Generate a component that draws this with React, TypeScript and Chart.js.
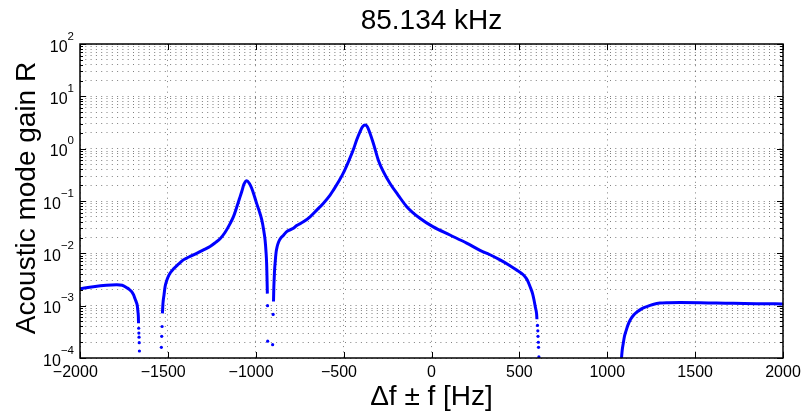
import { useEffect, useRef } from 'react';
import { Chart, registerables } from 'chart.js';

Chart.register(...registerables);

const TITLE = '85.134 kHz';
const X_LABEL = 'Δf ± f [Hz]';
const Y_LABEL = 'Acoustic mode gain R';

const X_TICKS = [-2000, -1500, -1000, -500, 0, 500, 1000, 1500, 2000];
const Y_DECADES = [-4, -3, -2, -1, 0, 1, 2];

// Solid (densely sampled) parts of the curve; null separates pieces
const curveX: (number | null)[] = [
  -2000, -1924, -1850, -1791, -1760, -1734, -1720, -1706, -1695, -1687, -1679, -1674, -1670, -1668, -1667,
  null,
  -1531, -1528, -1522, -1516, -1507, -1498, -1485, -1469, -1440, -1412, -1380, -1336, -1300, -1260, -1230,
  -1203, -1175, -1146, -1125, -1108, -1093, -1080, -1067, -1051, -1037, -1023, -1008, -995, -980, -966,
  -955, -947, -941, -938, -936, -934,
  null,
  -899, -898, -897, -895, -893, -889, -885, -878, -870, -858, -843, -824, -786, -767, -729, -691, -653,
  -616, -577, -559, -530, -502, -473, -445, -426, -407, -392, -378, -365, -350, -331, -303, -274, -236,
  -190, -141, -66, 10, 105, 200, 276, 330, 390, 440, 480, 522, 545, 561, 575, 583, 592, 598, 600,
  null,
  1081, 1085, 1091, 1098, 1107, 1117, 1129, 1147, 1168, 1195, 1225, 1260, 1300, 1350, 1414, 1528, 1620,
  1717, 1850, 2000,
];
const curveY: (number | null)[] = [
  2.1e-3, 2.3e-3, 2.45e-3, 2.5e-3, 2.45e-3, 2.2e-3, 2.05e-3, 1.85e-3, 1.6e-3, 1.35e-3, 1.15e-3, 1.0e-3, 7.5e-4, 6.2e-4, 4.6e-4,
  null,
  7.1e-4, 1.1e-3, 1.6e-3, 2.3e-3, 3.0e-3, 3.6e-3, 4.3e-3, 5.0e-3, 6.2e-3, 7.5e-3, 8.5e-3, 1.0e-2, 1.15e-2, 1.35e-2, 1.6e-2,
  1.9e-2, 2.5e-2, 3.7e-2, 5.2e-2, 7.7e-2, 0.11, 0.15, 0.21, 0.245, 0.218, 0.175, 0.125, 0.09, 0.064, 0.044,
  0.028, 0.018, 0.01, 6.3e-3, 3.5e-3, 1.7e-3,
  null,
  1.2e-3, 1.7e-3, 2.3e-3, 3.3e-3, 4.7e-3, 7e-3, 1.0e-2, 1.35e-2, 1.65e-2, 1.95e-2, 2.2e-2, 2.6e-2, 3.0e-2, 3.4e-2, 4.0e-2, 5.0e-2, 6.7e-2,
  0.09, 0.13, 0.16, 0.23, 0.34, 0.56, 0.95, 1.46, 2.1, 2.63, 2.83, 2.63, 1.97, 1.27, 0.61, 0.363, 0.216,
  0.13, 0.078, 0.0467, 0.032, 0.0224, 0.0157, 0.0114, 0.0095, 7.5e-3, 6.0e-3, 4.9e-3, 3.9e-3, 3.1e-3, 2.3e-3, 1.7e-3, 1.3e-3, 9e-4, 7e-4, 5.5e-4,
  null,
  1.0e-4, 1.4e-4, 1.9e-4, 2.6e-4, 3.3e-4, 4.2e-4, 5.2e-4, 6.4e-4, 7.5e-4, 8.7e-4, 9.6e-4, 1.05e-3, 1.12e-3, 1.14e-3, 1.15e-3, 1.14e-3, 1.12e-3,
  1.11e-3, 1.09e-3, 1.08e-3,
];

// Sparse samples in the steep dips, visible as separate dots
const dotX = [-1666, -1665, -1664, -1663, -1662, -1537, -1535, -1533, -933, -932, -904, -901, 603, 605, 606, 608, 609, 611];
const dotY = [3.7e-4, 3.0e-4, 2.5e-4, 1.96e-4, 1.36e-4, 1.6e-4, 2.6e-4, 4.0e-4, 1.0e-3, 2.1e-4, 1.8e-4, 6.8e-4, 4.2e-4, 3.3e-4, 2.6e-4, 2.0e-4, 1.6e-4, 1.05e-4];

const FONT = '"Liberation Sans", Arial, Helvetica, sans-serif';
const MINUS = '\u2212';

const overlay = {
  id: 'matlabOverlay',
  afterDraw(chart: any) {
    const { ctx, chartArea: a, scales } = chart;
    const xs = scales.x;
    const ys = scales.y;
    ctx.save();
    ctx.strokeStyle = '#000';
    ctx.lineWidth = 1.5;
    ctx.strokeRect(a.left, a.top, a.right - a.left, a.bottom - a.top);
    ctx.lineWidth = 1;
    ctx.beginPath();
    for (const v of X_TICKS) {
      const px = Math.round(xs.getPixelForValue(v)) + 0.5;
      ctx.moveTo(px, a.bottom);
      ctx.lineTo(px, a.bottom - 6);
      ctx.moveTo(px, a.top);
      ctx.lineTo(px, a.top + 6);
    }
    for (const d of Y_DECADES) {
      for (let m = 1; m <= 9; m++) {
        if (d === 2 && m > 1) break;
        const py = Math.round(ys.getPixelForValue(m * Math.pow(10, d))) + 0.5;
        const len = m === 1 ? 6 : 3;
        ctx.moveTo(a.left, py);
        ctx.lineTo(a.left + len, py);
        ctx.moveTo(a.right, py);
        ctx.lineTo(a.right - len, py);
      }
    }
    ctx.stroke();

    ctx.fillStyle = '#000';
    ctx.font = `16px ${FONT}`;
    ctx.textBaseline = 'alphabetic';
    for (const v of X_TICKS) {
      const px = xs.getPixelForValue(v);
      const digits = String(Math.abs(v));
      const w = ctx.measureText(digits).width;
      ctx.textAlign = 'right';
      ctx.fillText((v < 0 ? MINUS : '') + digits, px + w / 2, 377);
    }
    for (const d of Y_DECADES) {
      const py = ys.getPixelForValue(Math.pow(10, d));
      const exp = d < 0 ? MINUS + Math.abs(d) : String(d);
      ctx.font = `11.5px ${FONT}`;
      const ew = ctx.measureText(exp).width;
      const right = a.left - 6;
      ctx.textAlign = 'left';
      ctx.fillText(exp, right - ew, py - 4.5);
      ctx.font = `16px ${FONT}`;
      ctx.textAlign = 'right';
      ctx.fillText('10', right - ew, py + 7.5);
    }
    ctx.font = `28px ${FONT}`;
    ctx.textAlign = 'center';
    ctx.fillText(TITLE, (a.left + a.right) / 2, 29);
    ctx.fillText(X_LABEL, (a.left + a.right) / 2, 405);
    ctx.translate(35, 198);
    ctx.rotate(-Math.PI / 2);
    ctx.fillText(Y_LABEL, 0, 0);
    ctx.restore();
  },
};

export default function App() {
  const ref = useRef<HTMLCanvasElement | null>(null);
  useEffect(() => {
    if (!ref.current) return;
    const curve = curveX.map((x, i) => ({ x: x === null ? NaN : x, y: curveY[i] === null ? NaN : curveY[i] }));
    const dots = dotX.map((x, i) => ({ x, y: dotY[i] }));
    const yTickValues: number[] = [];
    for (const d of Y_DECADES) {
      for (let m = 1; m <= 9; m++) {
        if (d === 2 && m > 1) break;
        yTickValues.push(m * Math.pow(10, d));
      }
    }
    const gridColor = 'rgba(0,0,0,0.5)';
    const chart = new Chart(ref.current, {
      type: 'scatter',
      data: {
        datasets: [
          {
            data: curve as any,
            showLine: true,
            borderColor: '#0000ff',
            backgroundColor: '#0000ff',
            borderWidth: 3,
            pointRadius: 0,
            spanGaps: false,
            cubicInterpolationMode: 'monotone',
          },
          {
            data: dots,
            showLine: false,
            backgroundColor: '#0000ff',
            borderWidth: 0,
            pointRadius: 1.6,
          },
        ],
      },
      options: {
        animation: false,
        responsive: false,
        events: [],
        layout: { padding: { top: 44, right: 21, bottom: 0, left: 0 } },
        plugins: { legend: { display: false }, tooltip: { enabled: false }, title: { display: false } },
        scales: {
          x: {
            type: 'linear',
            min: -2000,
            max: 2000,
            ticks: { stepSize: 500, display: false },
            grid: { color: gridColor, lineWidth: 1, drawTicks: false },
            border: { display: false, dash: [1, 4.3] },
            afterFit: (s: any) => { s.height = 53; },
          },
          y: {
            type: 'logarithmic',
            min: 1e-4,
            max: 1e2,
            afterBuildTicks: (s: any) => { s.ticks = yTickValues.map((v) => ({ value: v })); },
            ticks: { display: false, autoSkip: false },
            grid: { color: gridColor, lineWidth: 1, drawTicks: false },
            border: { display: false, dash: [1, 4.3] },
            afterFit: (s: any) => { s.width = 80; },
          },
        },
      },
      plugins: [overlay],
    });
    return () => chart.destroy();
  }, []);
  return (
    <div style={{ position: 'absolute', left: 0, top: 0, width: 804, height: 411, background: '#fff' }}>
      <canvas ref={ref} width={804} height={411} style={{ width: 804, height: 411 }} />
    </div>
  );
}
